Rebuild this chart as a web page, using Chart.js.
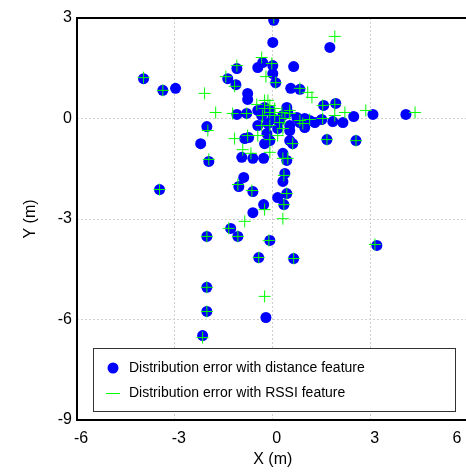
<!DOCTYPE html>
<html>
<head>
<meta charset="utf-8">
<script src="https://cdn.jsdelivr.net/npm/chart.js@4"></script>
<style>
  html, body { margin: 0; padding: 0; background: #fff; overflow: hidden; }
  #wrap { width: 482px; height: 472px; }
</style>
</head>
<body>
<div id="wrap"><canvas id="chart"></canvas></div>
<script>
// error with distance feature (blue dots)
const distX = [-3.96, -3.37, -2.98, -2.02, -2.21, -1.96, -3.47, -1.10, -1.38, -1.13, -0.77, -0.77, -1.10, -0.80,
  -0.46, -0.31, 0.03, 0.00, 1.75, 0.64, 0.00, 0.00, 0.09, 0.55, 0.83, 1.56, 1.93, 2.48, 3.07, 4.08,
  1.66, 2.55, 1.50, 1.84, 2.15, 0.98, 0.74, 1.13, 1.29, -0.25, -0.09, 0.43, 0.46, -0.34, -0.15, 0.00,
  0.31, 0.52, 0.52, 0.52, 0.61, -0.86, -0.74, -0.18, -0.25, -0.09, -0.95, -0.61, -0.28, 0.31, 0.43,
  0.37, 0.31, 0.43, 0.15, 0.34, -0.89, -1.04, -0.61, -0.28, -0.61, -1.29, -1.07, -2.02, -0.09, -0.43,
  0.64, 3.19, -2.02, -2.02, -2.15, -0.21, -0.46, 0.15, 0.21, -0.46, 0.83, 0.98];
const distY = [1.19, 0.84, 0.90, -0.24, -0.75, -1.28, -2.12, 1.49, 1.19, 1.01, 0.75, 0.57, 0.12, 0.15,
  1.52, 1.67, 2.93, 2.27, 2.12, 1.55, 1.58, 1.34, 1.07, 0.90, 0.87, 0.39, 0.45, 0.06, 0.12, 0.12,
  -0.63, -0.66, -0.03, -0.09, -0.12, 0.00, 0.03, -0.06, -0.12, 0.33, 0.24, 0.33, 0.18, 0.09, -0.15, 0.00,
  0.09, -0.21, -0.36, -0.66, -0.75, -0.60, -0.57, -0.45, -0.75, -0.66, -1.16, -1.19, -1.19, -1.04, -1.25,
  -1.64, -1.88, -2.24, -2.36, -2.57, -1.76, -2.03, -2.18, -2.57, -2.81, -3.28, -3.52, -3.52, -3.64, -4.15,
  -4.18, -3.79, -5.04, -5.76, -6.48, -5.94, -0.21, -0.30, -0.06, 0.24, -0.12, -0.27];

// error with RSSI feature (green crosses)
const rssiX = [-3.96, -3.37, -2.09, -1.75, -1.99, -1.10, -1.44, -1.17, -1.23, -0.80, -0.34, -0.03, 0.03,
  1.90, -0.21, 0.09, 0.83, 1.07, 1.20, 1.53, 1.90, 2.21, 2.85, 4.36, 1.66, 2.55, 1.13, 1.53, 1.90,
  0.61, 0.92, -0.49, -0.15, -0.25, -0.09, 0.06, -0.31, 0.28, 0.52, -1.17, -0.77, -0.46, -0.09, -0.09,
  0.15, -0.92, -0.67, 0.31, 0.46, 0.34, 0.43, 0.34, 0.31, -1.07, -0.64, -0.25, -0.86, -1.35, -1.07,
  -2.02, -0.12, -0.43, 0.64, 3.13, -0.25, -2.02, -2.02, -2.15, -1.96, -3.47, 0.06, -0.09, 0.21, 0.37,
  -0.34, 0.52, 0.83, -0.09, 0.31, -0.25];
const rssiY = [1.22, 0.84, 0.75, 0.18, -0.36, 1.58, 1.25, 0.96, 0.15, 0.15, 1.82, 1.64, 3.01,
  2.45, 1.25, 1.07, 0.90, 0.78, 0.63, 0.39, 0.42, 0.18, 0.24, 0.18, -0.63, -0.66, -0.03, 0.00, 0.09,
  -0.75, -0.15, 0.42, 0.54, 0.30, 0.18, 0.09, 0.09, 0.18, 0.24, -0.60, -0.51, -0.51, -0.63, -1.01,
  -0.51, -0.93, -1.04, -1.19, -1.19, -1.70, -2.24, -2.57, -2.99, -1.97, -2.15, -2.72, -3.07, -3.28, -3.52,
  -3.52, -3.64, -4.15, -4.18, -3.76, -5.31, -5.04, -5.76, -6.54, -1.22, -2.12, 0.30, 0.39, -0.12, 0.00,
  -0.21, 0.15, -0.06, -0.21, -0.30, 0.54];

const xTicks = [-6, -3, 0, 3, 6];
const yTicks = [-9, -6, -3, 0, 3];
const legendLabels = ['Distribution error with distance feature', 'Distribution error with RSSI feature'];

const FONT = '"Liberation Sans", Arial, sans-serif';

const pts = (xs, ys) => xs.map((x, i) => ({ x: x, y: ys[i] }));

// frame + legend box drawn inside the plot
const framePlugin = {
  id: 'frame',
  afterDraw(chart) {
    const ctx = chart.ctx;
    const a = chart.chartArea;
    ctx.save();
    ctx.strokeStyle = '#000';
    ctx.lineWidth = 2;
    ctx.strokeRect(a.left, a.top, a.right - a.left, a.bottom - a.top);

    // last x tick label sits inside the window
    ctx.fillStyle = '#000';
    ctx.font = '16px ' + FONT;
    ctx.textAlign = 'center';
    ctx.textBaseline = 'middle';
    ctx.fillText(String(xTicks[xTicks.length - 1]), 457, 439);

    // legend
    const lx = 93, ly = 348, lw = 362, lh = 63;
    ctx.fillStyle = '#fff';
    ctx.fillRect(lx, ly, lw, lh);
    ctx.lineWidth = 1;
    ctx.strokeStyle = '#333';
    ctx.strokeRect(lx + 0.5, ly + 0.5, lw, lh);

    ctx.fillStyle = '#0000ff';
    ctx.beginPath();
    ctx.arc(113, 368, 5.5, 0, Math.PI * 2);
    ctx.fill();

    ctx.strokeStyle = '#00ff00';
    ctx.beginPath();
    ctx.moveTo(106, 393.5);
    ctx.lineTo(120, 393.5);
    ctx.stroke();

    ctx.fillStyle = '#000';
    ctx.font = '14px ' + FONT;
    ctx.textAlign = 'left';
    ctx.fillText(legendLabels[0], 129, 368);
    ctx.fillText(legendLabels[1], 129, 393);
    ctx.restore();
  }
};

new Chart(document.getElementById('chart'), {
  type: 'scatter',
  data: {
    datasets: [{
      label: legendLabels[0],
      data: pts(distX, distY),
      order: 2,
      pointStyle: 'circle',
      pointRadius: 5.5,
      pointBackgroundColor: '#0000ff',
      pointBorderColor: '#0000ff',
      pointBorderWidth: 0
    }, {
      label: legendLabels[1],
      data: pts(rssiX, rssiY),
      order: 1,
      pointStyle: 'cross',
      pointRadius: 6,
      pointBorderColor: '#00ff00',
      pointBorderWidth: 1
    }]
  },
  options: {
    responsive: true,
    maintainAspectRatio: false,
    animation: false,
    layout: { padding: { top: 18, right: 0, left: 0, bottom: 0 } },
    plugins: {
      legend: { display: false },
      tooltip: { enabled: false }
    },
    scales: {
      x: {
        type: 'linear',
        min: -6, max: 6,
        afterBuildTicks: s => { s.ticks = xTicks.map(v => ({ value: v })); },
        afterFit: s => { s.height = 52; },
        grid: { color: '#cfcfcf', lineWidth: 1, drawTicks: false },
        border: { display: false, dash: [2, 2] },
        ticks: {
          padding: 9,
          labelOffset: 4,
          maxRotation: 0,
          font: { family: FONT, size: 16 },
          color: c => (c.tick && c.tick.value === 6) ? 'rgba(0,0,0,0)' : '#000'
        },
        title: {
          display: true, text: 'X (m)',
          font: { family: FONT, size: 16 }, color: '#000',
          padding: { top: 0, bottom: 3 }
        }
      },
      y: {
        type: 'linear',
        min: -9, max: 3,
        afterBuildTicks: s => { s.ticks = yTicks.map(v => ({ value: v })); },
        afterFit: s => { s.width = 77; },
        grid: { color: '#cfcfcf', lineWidth: 1, drawTicks: false },
        border: { display: false, dash: [2, 2] },
        ticks: {
          padding: 5,
          font: { family: FONT, size: 16 },
          color: '#000'
        },
        title: {
          display: true, text: 'Y (m)',
          font: { family: FONT, size: 16 }, color: '#000',
          padding: { top: 21, bottom: 0 }
        }
      }
    }
  },
  plugins: [framePlugin]
});
</script>
</body>
</html>
